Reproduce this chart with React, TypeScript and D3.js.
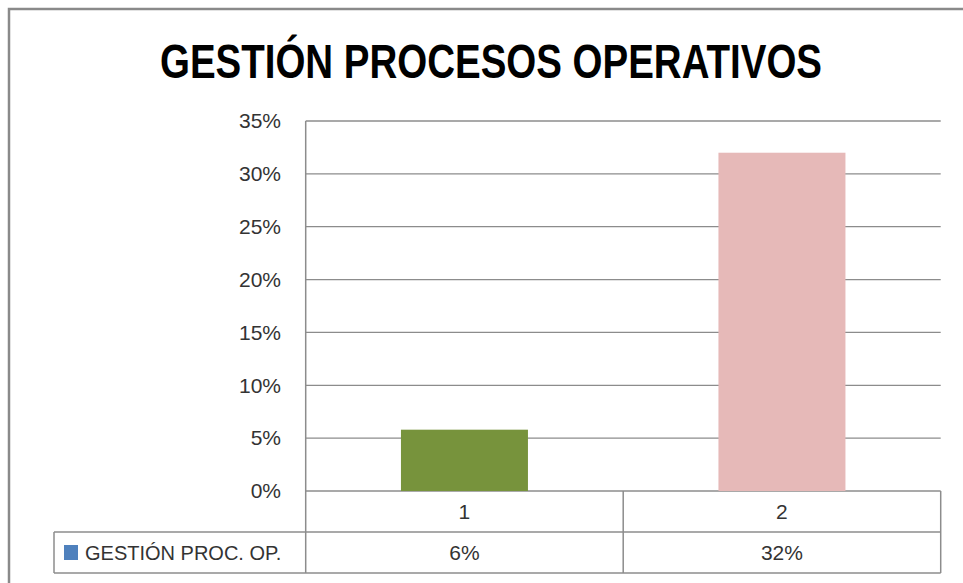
import React from 'react';
import * as d3 from 'd3';

const chartTitle = 'GESTIÓN PROCESOS OPERATIVOS';
const categories = ['1', '2'];
const seriesName = 'GESTIÓN PROC. OP.';
const seriesValues = [0.058, 0.32];
const barColors = ['#77933C', '#E6B9B8'];
const legendColor = '#4F81BD';
const yTicks = [0, 0.05, 0.1, 0.15, 0.2, 0.25, 0.3, 0.35];

const App: React.FC = () => {
  const width = 963;
  const height = 583;

  // plot area
  const left = 305.7;
  const right = 940.7;
  const top = 121;
  const bottom = 491;

  // data table rows under the plot
  const rowH = 41;
  const legendLeft = 54;

  const x = d3.scaleBand<string>().domain(categories).range([left, right]).padding(0);
  const y = d3.scaleLinear().domain([0, 0.35]).range([bottom, top]);
  const pct = d3.format('.0%');

  const barW = x.bandwidth() * 0.4;
  const font = '"Liberation Sans", Arial, sans-serif';
  const textColor = '#333';
  const lineColor = '#8c8c8c';

  return (
    <svg
      width={width}
      height={height}
      style={{ position: 'absolute', left: 0, top: 0, background: '#fff' }}
    >
      {/* outer frame */}
      <rect x={9} y={9} width={width + 20} height={height + 20} fill="#fff" stroke="#8a8a8a" strokeWidth={2.5} />

      <text
        x={491}
        y={78}
        textAnchor="middle"
        fontFamily='"Liberation Sans Narrow", "Liberation Sans", Arial, sans-serif'
        fontWeight="bold"
        fontSize={48}
        textLength={662}
        lengthAdjust="spacingAndGlyphs"
        fill="#000"
      >
        {chartTitle}
      </text>

      {/* gridlines + y labels */}
      {yTicks.map(t => (
        <g key={t}>
          <line x1={left} x2={right} y1={y(t)} y2={y(t)} stroke={lineColor} strokeWidth={1.3} />
          <text
            x={281}
            y={y(t)}
            dy="0.35em"
            textAnchor="end"
            fontFamily={font}
            fontSize={21}
            fill={textColor}
          >
            {pct(t)}
          </text>
        </g>
      ))}

      {/* bars */}
      {seriesValues.map((v, i) => {
        const cx = (x(categories[i]) as number) + x.bandwidth() / 2;
        return (
          <rect
            key={i}
            x={cx - barW / 2}
            y={y(v)}
            width={barW}
            height={bottom - y(v)}
            fill={barColors[i]}
          />
        );
      })}

      {/* data table */}
      <g stroke={lineColor} strokeWidth={1.5} fill="none">
        <line x1={left} x2={left} y1={top} y2={bottom + rowH * 2} />
        <line x1={right} x2={right} y1={bottom} y2={bottom + rowH * 2} />
        {categories.slice(1).map(c => (
          <line key={c} x1={x(c)} x2={x(c)} y1={bottom} y2={bottom + rowH * 2} />
        ))}
        <line x1={legendLeft} x2={right} y1={bottom + rowH} y2={bottom + rowH} />
        <line x1={legendLeft} x2={right} y1={bottom + rowH * 2} y2={bottom + rowH * 2} />
        <line x1={legendLeft} x2={legendLeft} y1={bottom + rowH} y2={bottom + rowH * 2} />
      </g>

      {categories.map((c, i) => {
        const cx = (x(c) as number) + x.bandwidth() / 2;
        return (
          <g key={c} fontFamily={font} fontSize={21} fill={textColor} textAnchor="middle">
            <text x={cx} y={bottom + rowH / 2} dy="0.35em">{c}</text>
            <text x={cx} y={bottom + rowH * 1.5} dy="0.35em">{pct(seriesValues[i])}</text>
          </g>
        );
      })}

      <rect x={64} y={545} width={14} height={15} fill={legendColor} />
      <text
        x={85}
        y={bottom + rowH * 1.5}
        dy="0.35em"
        fontFamily={font}
        fontSize={20}
        fill={textColor}
      >
        {seriesName}
      </text>
    </svg>
  );
};

export default App;
